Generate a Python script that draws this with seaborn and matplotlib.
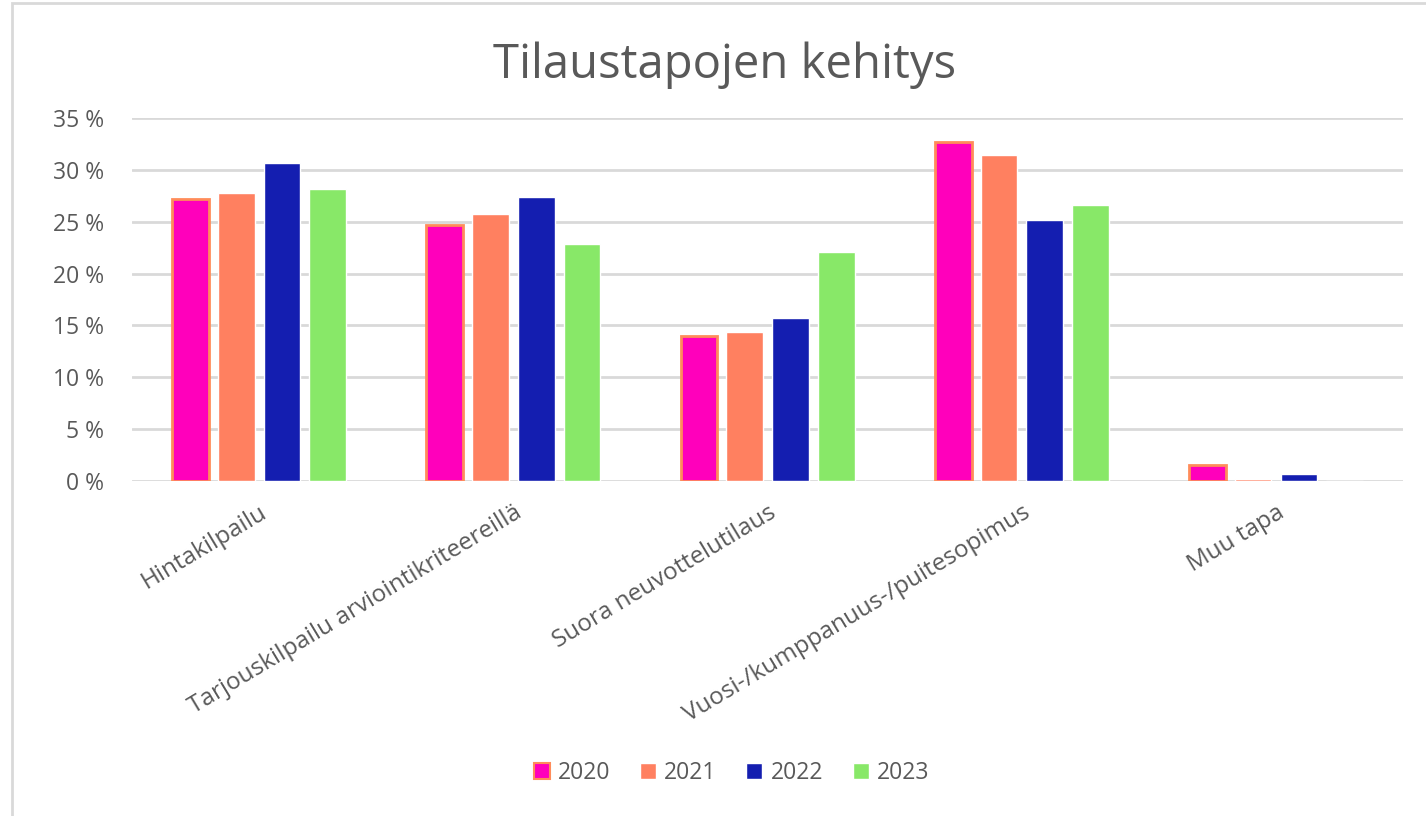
import pandas as pd
import matplotlib.pyplot as plt
import matplotlib.patches as mpatches
import seaborn as sns

# --- data ---
categories = ["Hintakilpailu", "Tarjouskilpailu arviointikriteereillä",
              "Suora neuvottelutilaus", "Vuosi-/kumppanuus-/puitesopimus", "Muu tapa"]
years = ["2020", "2021", "2022", "2023"]
v2020 = [27.2, 24.7, 14.0, 32.7, 1.5]
v2021 = [27.8, 25.7, 14.4, 31.4, 0.2]
v2022 = [30.7, 27.4, 15.7, 25.2, 0.7]
v2023 = [28.2, 22.9, 22.1, 26.6, 0.0]
yticks = [0, 5, 10, 15, 20, 25, 30, 35]

COLORS = ["#FF00BB", "#FF8060", "#141EB0", "#88E868"]
EDGE_2020 = "#FF8C5A"
TEXT = "#595959"
GRID = "#D9D9D9"

sns.set_style("white")
plt.rcParams['font.family'] = ['Open Sans', 'DejaVu Sans']

rows = []
for year, vals in zip(years, [v2020, v2021, v2022, v2023]):
    for cat, v in zip(categories, vals):
        rows.append({"tapa": cat, "vuosi": year, "osuus": v})
df = pd.DataFrame(rows)

fig = plt.figure(figsize=(14.26, 8.16), dpi=100)
ax = fig.add_axes([0.0926, 0.4105, 0.8914, 0.4449])

sns.barplot(data=df, x="tapa", y="osuus", hue="vuosi", order=categories,
            hue_order=years, palette=COLORS, width=0.72, gap=0.2,
            saturation=1, errorbar=None, ax=ax, legend=False, zorder=3)

# 2020 bars have an orange outline
for bar in ax.containers[0]:
    bar.set_edgecolor(EDGE_2020)
    bar.set_linewidth(2)

ax.set_xlim(-0.5, 4.5)
ax.set_ylim(0, 35)
ax.set_yticks(yticks)
ax.set_yticklabels([f"{t} %" for t in yticks], fontsize=16.5, color=TEXT)
ax.yaxis.grid(True, color=GRID, linewidth=2, zorder=0)
ax.tick_params(axis='both', length=0)
ax.tick_params(axis='y', pad=20)
ax.set_xlabel("")
ax.set_ylabel("")
for s in ax.spines.values():
    s.set_visible(False)

ax.set_xticks(range(len(categories)))
ax.set_xticklabels(categories, rotation=31, ha='right', rotation_mode='anchor',
                   fontsize=17.5, color=TEXT)
ax.tick_params(axis='x', pad=14)

fig.text(0.508, 0.92, "Tilaustapojen kehitys", ha='center', va='center',
         fontsize=34, color=TEXT)

handles = [mpatches.Patch(facecolor=COLORS[0], edgecolor=EDGE_2020, linewidth=1.5, label="2020")]
handles += [mpatches.Patch(facecolor=c, label=y) for c, y in zip(COLORS[1:], years[1:])]
fig.legend(handles=handles, loc='center', bbox_to_anchor=(0.513, 0.053), ncol=4,
           frameon=False, fontsize=16.5, handlelength=0.7, handleheight=0.7,
           handletextpad=0.35, columnspacing=1.3, labelcolor=TEXT)

# light outer chart border
fig.add_artist(mpatches.Rectangle((12 / 1426, -0.01), 1.0, 1.0 - 3 / 816 + 0.01,
                                  transform=fig.transFigure, fill=False,
                                  edgecolor=GRID, linewidth=2))

fig.savefig("out.png", dpi=100)
